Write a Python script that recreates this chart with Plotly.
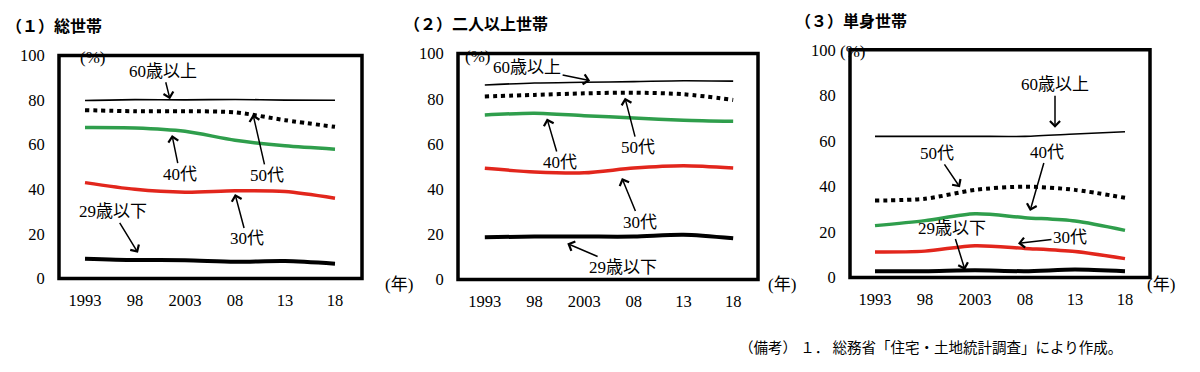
import plotly.graph_objects as go

years = [1993, 1998, 2003, 2008, 2013, 2018]
tick_text = ["1993", "98", "2003", "08", "13", "18"]
series_names = ["60歳以上", "50代", "40代", "30代", "29歳以下"]

# (1) 総世帯
total_60 = [79.8, 80.2, 80.1, 80.3, 80.0, 79.9]
total_50 = [75.5, 75.0, 75.0, 74.5, 71.0, 68.0]
total_40 = [67.7, 67.5, 66.0, 62.0, 59.5, 58.0]
total_30 = [43.0, 40.0, 38.7, 39.3, 39.0, 36.0]
total_29 = [8.9, 8.3, 8.2, 7.5, 7.8, 6.6]

# (2) 二人以上世帯
multi_60 = [86.1, 87.0, 87.3, 87.6, 88.0, 87.8]
multi_50 = [81.0, 81.7, 82.4, 82.7, 82.0, 79.5]
multi_40 = [72.8, 73.6, 72.5, 71.5, 70.5, 70.0]
multi_30 = [49.2, 47.6, 47.2, 49.3, 50.3, 49.3]
multi_29 = [18.7, 19.0, 19.0, 19.0, 19.8, 18.2]

# (3) 単身世帯
single_60 = [62.0, 62.0, 62.0, 62.0, 63.0, 64.0]
single_50 = [33.8, 34.6, 38.5, 39.9, 38.5, 35.0]
single_40 = [22.8, 25.0, 28.0, 26.3, 24.8, 20.7]
single_30 = [11.2, 11.6, 14.0, 12.8, 11.4, 8.3]
single_29 = [2.8, 2.8, 3.2, 2.8, 3.5, 2.8]

titles = ["（１）総世帯", "（２）二人以上世帯", "（３）単身世帯"]
panels = [
    [total_60, total_50, total_40, total_30, total_29],
    [multi_60, multi_50, multi_40, multi_30, multi_29],
    [single_60, single_50, single_40, single_30, single_29],
]

# label positions: (tip_x, tip_y, ax_px, ay_px) per series
label_pos = [
    [(2001.5, 80.4, -7, -28), (2009.8, 73.6, 14, 61), (2001.7, 64.3, 8, 39),
     (2008.0, 37.9, 12, 45), (1998.3, 11.5, -25, -41)],
    [(2003.6, 88.0, -63, -13), (2007.1, 80.5, 13, 50), (1999.25, 71.3, 13, 44),
     (2006.8, 44.9, 18, 44), (2001.3, 15.9, 56, 24)],
    [(2011.0, 65.8, 0, -43), (2001.5, 39.6, -23, -34), (2008.5, 29.2, 17, -59),
     (2007.3, 15.0, 52, -6), (2002.0, 3.3, -13, -42)],
]

styles = [
    dict(color="black", width=1.6),
    dict(color="black", width=4, dash="4px,4px"),
    dict(color="#2f9e4c", width=3.5),
    dict(color="#e2261c", width=3.5),
    dict(color="black", width=4),
]

W, H = 1200, 372
x_dom_px = [(59, 362), (458, 758), (850, 1150)]
y_px = [(284, 49), (285, 47), (283, 43)]  # (y of 0, y of 100)
x_ranges = [(1990.4, 2020.7), (1990.3, 2020.5), (1990.5, 2020.5)]

serif = "Liberation Serif, Noto Sans CJK JP, serif"
gothic = "Noto Sans CJK JP, sans-serif"

fig = go.Figure()
layout = dict(width=W, height=H, margin=dict(l=0, r=0, t=0, b=0),
              paper_bgcolor="white", plot_bgcolor="white", showlegend=False)
annotations = []
shapes = []

for i in range(3):
    sfx = "" if i == 0 else str(i + 1)
    xa, ya = "x" + sfx, "y" + sfx
    x0, x1 = x_dom_px[i]
    yb, yt = y_px[i]
    layout["xaxis" + sfx] = dict(
        domain=[x0 / W, x1 / W], range=list(x_ranges[i]), anchor=ya,
        tickvals=years, ticktext=tick_text, showgrid=False, zeroline=False,
        ticks="outside", ticklen=7, tickcolor="rgba(0,0,0,0)",
        tickfont=dict(family=serif, size=16.5, color="black"))
    layout["yaxis" + sfx] = dict(
        domain=[1 - yb / H, 1 - yt / H], range=[0, 100], anchor=xa,
        tickvals=[0, 20, 40, 60, 80, 100], showgrid=False, zeroline=False,
        ticks="outside", ticklen=10, tickcolor="rgba(0,0,0,0)",
        tickfont=dict(family=serif, size=16.5, color="black"))
    for j, vals in enumerate(panels[i]):
        fig.add_trace(go.Scatter(x=years, y=vals, mode="lines",
                                 line=dict(shape="spline", smoothing=0.8, **styles[j]),
                                 xaxis=xa, yaxis=ya, name=series_names[j]))
        tx, ty, axp, ayp = label_pos[i][j]
        annotations.append(dict(
            x=tx, y=ty, xref=xa, yref=ya, ax=axp, ay=ayp, text=series_names[j],
            showarrow=True, arrowhead=4, arrowsize=1.3, arrowwidth=1.5,
            arrowcolor="black", font=dict(family=serif, size=17, color="black")))
    shapes.append(dict(type="rect", xref=xa + " domain", yref=ya + " domain",
                       x0=0, x1=1, y0=0, y1=1, line=dict(color="black", width=3.5)))

# titles
title_pos = [(4, 17), (402, 15), (793, 12)]
for i, (px, py) in enumerate(title_pos):
    annotations.append(dict(x=px / W, y=1 - py / H, xref="paper", yref="paper",
                            xanchor="left", yanchor="middle", showarrow=False,
                            text="<b>" + titles[i] + "</b>",
                            font=dict(family=gothic, size=16, color="black")))
# (%) labels
for px, py in [(78, 39), (477, 38), (867, 33)]:
    annotations.append(dict(x=px / W, y=1 - py / H, xref="paper", yref="paper",
                            showarrow=False, text="(%)",
                            font=dict(family=serif, size=17, color="black")))
# (年) labels
for px, py in [(383, 302), (782, 302), (1177, 302)]:
    annotations.append(dict(x=px / W, y=1 - py / H, xref="paper", yref="paper",
                            showarrow=False, text="(年)",
                            font=dict(family=serif, size=17, color="black")))
# footnote
annotations.append(dict(x=737 / W, y=1 - 356 / H, xref="paper", yref="paper",
                        xanchor="left", yanchor="middle", showarrow=False,
                        text="（備考） １． 総務省「住宅・土地統計調査」により作成。",
                        font=dict(family=gothic, size=14.5, color="black")))

layout["annotations"] = annotations
layout["shapes"] = shapes
fig.update_layout(**layout)
fig.write_html(
    "out.html", config={"displayModeBar": False},
    post_script=("document.body.style.margin='0';document.body.style.overflow='hidden';"
                 "var gd=document.getElementById('{plot_id}');"
                 "gd.style.position='absolute';gd.style.top='0px';gd.style.left='0px';"))
